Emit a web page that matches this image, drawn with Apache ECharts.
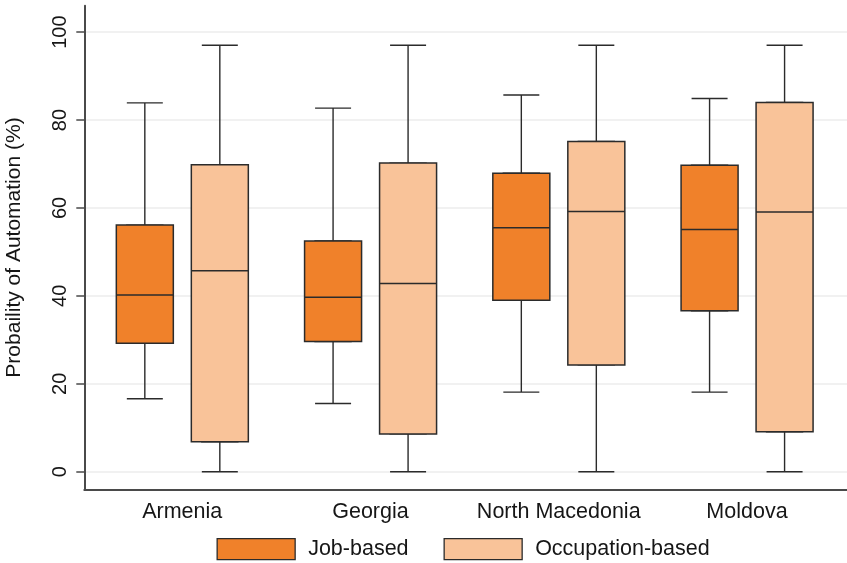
<!DOCTYPE html>
<html><head><meta charset="utf-8">
<script src="https://cdn.jsdelivr.net/npm/echarts@6/dist/echarts.min.js"></script>
<style>html,body{margin:0;padding:0;background:#fff}#c{width:847px;height:563px}</style>
</head><body><div id="c"></div>
<script>
const categories = ['Armenia', 'Georgia', 'North Macedonia', 'Moldova'];
const seriesNames = ['Job-based', 'Occupation-based'];
// each row: [lower whisker, Q1, median, Q3, upper whisker]
const jobBased = [
  [16.6, 29.2, 40.2, 56.1, 83.9],
  [15.5, 29.6, 39.7, 52.5, 82.7],
  [18.1, 39.0, 55.5, 67.9, 85.7],
  [18.1, 36.6, 55.1, 69.7, 84.9]
];
const occupationBased = [
  [0, 6.8, 45.7, 69.8, 97],
  [0, 8.6, 42.8, 70.2, 97],
  [0, 24.3, 59.2, 75.1, 97],
  [0, 9.1, 59.1, 84.0, 97]
];
const yTicks = [0, 20, 40, 60, 80, 100];

const colors = { job: '#F0812A', occ: '#F9C399', line: '#2b2b2b', axis: '#4a4a4a', grid: '#ececec', text: '#161616' };
const FONT = 'Liberation Sans';
const T = 5.7, B = 73.7, W = 753;
const yMin = -4, yMax = 106;

function boxOnly(rows) { return rows.map(r => [r[1], r[1], r[2], r[3], r[3]]); }

const gridBase = { top: T, bottom: B, outerBoundsMode: 'none', containLabel: false };
const grids = [
  Object.assign({ left: 84.3, right: 0 }, gridBase),   // frame
  Object.assign({ left: 88.1, width: W }, gridBase),   // category labels
  Object.assign({ left: 50.7, width: W }, gridBase),   // job whiskers
  Object.assign({ left: 50.7, width: W }, gridBase),   // job boxes
  Object.assign({ left: 125.7, width: W }, gridBase),  // occ whiskers
  Object.assign({ left: 125.7, width: W }, gridBase)   // occ boxes
];

const xAxes = [
  { gridIndex: 0, type: 'value', min: 0, max: 1,
    axisLine: { show: true, onZero: false, lineStyle: { color: colors.axis, width: 2 } },
    axisTick: { show: false }, axisLabel: { show: false }, splitLine: { show: false } },
  { gridIndex: 1, type: 'category', data: categories,
    axisLine: { show: false }, axisTick: { show: false },
    axisLabel: { interval: 0, margin: 12, fontSize: 21.5, fontFamily: FONT, color: colors.text } }
];
for (let g = 2; g < 6; g++) xAxes.push({ gridIndex: g, type: 'category', data: categories, show: false });

const yAxes = [
  { gridIndex: 0, type: 'value', min: yMin, max: yMax,
    axisLine: { show: true, lineStyle: { color: colors.axis, width: 2 } },
    axisTick: { show: true, length: 8, customValues: yTicks, lineStyle: { color: colors.axis, width: 1.5 } },
    axisLabel: { customValues: yTicks, rotate: 90, margin: 14, fontSize: 20, fontFamily: FONT, color: colors.text },
    splitLine: { show: true, lineStyle: { color: colors.grid, width: 1.5 } },
    name: 'Probaility of Automation (%)', nameLocation: 'middle', nameGap: 60,
    nameTextStyle: { fontSize: 21, fontFamily: FONT, color: colors.text } }
];
for (let g = 1; g < 6; g++) yAxes.push({ gridIndex: g, type: 'value', min: yMin, max: yMax, show: false, splitLine: { show: false } });

function whisker(rows, idx) {
  return { type: 'boxplot', name: 'w' + idx, xAxisIndex: idx, yAxisIndex: idx, boxWidth: [36, 36], z: 2,
    itemStyle: { color: 'rgba(0,0,0,0)', borderColor: colors.line, borderWidth: 1.4 },
    emphasis: { disabled: true }, data: rows };
}
function boxes(rows, idx, name, fill) {
  return { type: 'boxplot', name: name, xAxisIndex: idx, yAxisIndex: idx, boxWidth: [57, 57], z: 3,
    itemStyle: { color: fill, borderColor: colors.line, borderWidth: 1.5 },
    emphasis: { disabled: true }, data: boxOnly(rows) };
}

const legendCommon = { orient: 'horizontal', top: 538, padding: 0, itemWidth: 78, itemHeight: 21, icon: 'rect',
  selectedMode: false, textStyle: { fontSize: 21.5, fontFamily: FONT, color: colors.text, padding: [0, 0, 0, 8] } };

const option = {
  animation: false,
  backgroundColor: '#fff',
  grid: grids,
  xAxis: xAxes,
  yAxis: yAxes,
  legend: [
    Object.assign({}, legendCommon, { left: 216.5, data: [{ name: seriesNames[0], itemStyle: { color: colors.job, borderColor: colors.line, borderWidth: 1.3 } }] }),
    Object.assign({}, legendCommon, { left: 443.5, data: [{ name: seriesNames[1], itemStyle: { color: colors.occ, borderColor: colors.line, borderWidth: 1.3 } }] })
  ],
  series: [
    whisker(jobBased, 2),
    boxes(jobBased, 3, seriesNames[0], colors.job),
    whisker(occupationBased, 4),
    boxes(occupationBased, 5, seriesNames[1], colors.occ)
  ]
};
const chart = echarts.init(document.getElementById('c'), null, { renderer: 'canvas' });
chart.setOption(option);
</script></body></html>
